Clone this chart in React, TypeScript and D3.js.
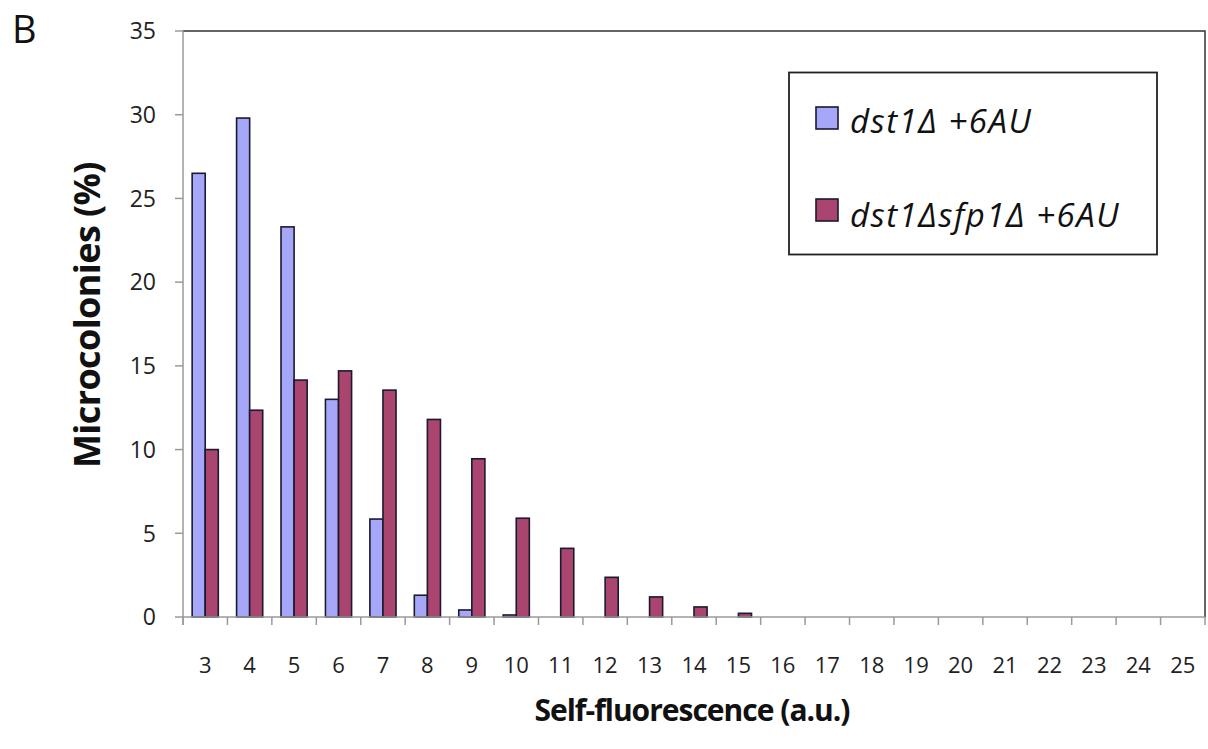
import React from "react";
import * as d3 from "d3";

const categories = ["3","4","5","6","7","8","9","10","11","12","13","14","15","16","17","18","19","20","21","22","23","24","25"];
const seriesNames = ["dst1Δ +6AU", "dst1Δsfp1Δ +6AU"];
const dst1Values = [26.5, 29.8, 23.3, 13.0, 5.85, 1.3, 0.42, 0.12, 0, 0, 0, 0, 0, 0, 0, 0, 0, 0, 0, 0, 0, 0, 0];
const dst1sfp1Values = [10.0, 12.35, 14.15, 14.7, 13.55, 11.8, 9.45, 5.9, 4.1, 2.37, 1.2, 0.6, 0.22, 0, 0, 0, 0, 0, 0, 0, 0, 0, 0];
const yTicks = [0, 5, 10, 15, 20, 25, 30, 35];
const colors = ["#A7A7F9", "#A9456F"];

const W = 1208, H = 749;
const left = 183, right = 1205, top = 31, bottom = 617;

export default function App() {
  const x = d3.scaleBand().domain(categories).range([left, right]).paddingInner(0).paddingOuter(0);
  const y = d3.scaleLinear().domain([0, 35]).range([bottom, top]);
  const bw = x.bandwidth() / 3.4;
  const series = [dst1Values, dst1sfp1Values];
  const font = "'Open Sans', sans-serif";
  const boundaries = categories.map((c) => x(c) as number).concat([right]);

  return (
    <svg width={W} height={H} style={{ position: "absolute", left: 0, top: 0, background: "#fff" }} fontFamily={font}>
      <rect x={0} y={0} width={W} height={H} fill="#fff" />
      <text x={12} y={43} fontSize={38} fill="#111">B</text>

      {/* plot frame top/right */}
      <path d={`M${left},${top}H${right}V${bottom}`} fill="none" stroke="#333" strokeWidth={1.5} />

      {/* bars */}
      {series.map((vals, si) =>
        vals.map((v, i) => {
          if (v <= 0) return null;
          const cx = (x(categories[i]) as number) + x.bandwidth() / 2;
          const bx = cx - bw + si * bw;
          return (
            <rect key={`${si}-${i}`} x={bx} y={y(v)} width={bw} height={bottom - y(v)}
              fill={colors[si]} stroke="#1a1a30" strokeWidth={1.6} />
          );
        })
      )}

      {/* axes */}
      <line x1={left} x2={left} y1={top} y2={bottom + 8} stroke="#9a9a9a" strokeWidth={1.5} />
      <line x1={left} x2={right} y1={bottom} y2={bottom} stroke="#9a9a9a" strokeWidth={1.5} />
      {yTicks.map((t) => (
        <g key={t}>
          <line x1={left - 8} x2={left} y1={y(t)} y2={y(t)} stroke="#9a9a9a" strokeWidth={1.5} />
          <text x={left - 27} y={y(t)} dy="0.36em" textAnchor="end" fontSize={23} fill="#222">{t}</text>
        </g>
      ))}
      {boundaries.map((b, i) => (
        <line key={i} x1={b} x2={b} y1={bottom} y2={bottom + 8} stroke="#9a9a9a" strokeWidth={1.5} />
      ))}
      {categories.map((c) => (
        <text key={c} x={(x(c) as number) + x.bandwidth() / 2} y={673} textAnchor="middle" fontSize={22} fill="#222">{c}</text>
      ))}

      {/* axis titles */}
      <text x={692} y={721} textAnchor="middle" fontSize={30} letterSpacing={-1} fontWeight="bold" fill="#111">Self-fluorescence (a.u.)</text>
      <text transform={`translate(100,315) rotate(-90)`} textAnchor="middle" fontSize={36} letterSpacing={-0.6} fontWeight="bold" fill="#111">Microcolonies (%)</text>

      {/* legend */}
      <rect x={789} y={72.5} width={368} height={182} fill="#fff" stroke="#222" strokeWidth={1.8} />
      {seriesNames.map((n, i) => (
        <g key={n}>
          <rect x={816} y={107 + i * 92} width={22} height={22} fill={colors[i]} stroke="#1a1a30" strokeWidth={1.6} />
          <text x={850} y={132.5 + i * 94} fontSize={33} letterSpacing={1.5} fontStyle="italic" fill="#111">{n}</text>
        </g>
      ))}
    </svg>
  );
}
